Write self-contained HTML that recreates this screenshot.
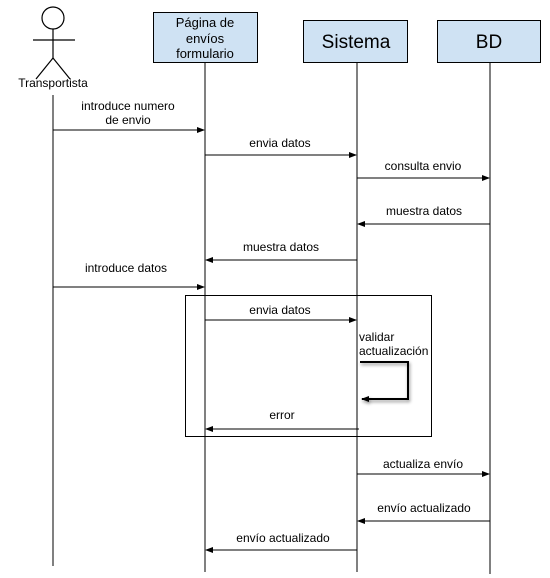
<!DOCTYPE html>
<html><head><meta charset="utf-8"><style>
html,body{margin:0;padding:0;background:#fff;}
svg{display:block;font-family:"Liberation Sans",Arial,sans-serif;}
</style></head><body>
<svg width="550" height="578" viewBox="0 0 550 578" xmlns="http://www.w3.org/2000/svg">
<defs>
<marker id="a" markerWidth="8" markerHeight="6" refX="7" refY="3" orient="auto" markerUnits="userSpaceOnUse">
<path d="M0,0 L8,3 L0,6 z" fill="#000"/></marker>
<filter id="sh" x="-20%" y="-20%" width="150%" height="150%"><feDropShadow dx="1" dy="2" stdDeviation="1.5" flood-opacity="0.45"/></filter>
</defs>
<g stroke="#000" stroke-width="1.2" fill="none">
<circle cx="53" cy="18" r="11" fill="#fff"/>
<line x1="53" y1="29" x2="53" y2="58"/>
<line x1="33" y1="40" x2="75" y2="40"/>
<line x1="53" y1="58" x2="36" y2="79"/>
<line x1="53" y1="58" x2="70" y2="79"/>
</g>
<text x="53" y="87" font-size="12" text-anchor="middle">Transportista</text>
<g stroke="#000" stroke-width="1" fill="#cfe2f3">
<rect x="153.5" y="12.5" width="104" height="50"/>
<rect x="303.5" y="20.5" width="104" height="42"/>
<rect x="437.5" y="20.5" width="103" height="42"/>
</g>
<g font-size="13" text-anchor="middle">
<text x="205" y="27">Página de</text>
<text x="205" y="43">envíos</text>
<text x="205" y="58">formulario</text>
</g>
<text x="356" y="48" font-size="19" text-anchor="middle">Sistema</text>
<text x="489" y="48" font-size="19" text-anchor="middle">BD</text>
<g stroke="#000" stroke-width="1">
<line x1="53" y1="95" x2="53" y2="566"/>
<line x1="205" y1="63" x2="205" y2="572"/>
<line x1="357" y1="63" x2="357" y2="572"/>
<line x1="490" y1="63" x2="490" y2="574"/>
</g>
<rect x="185.5" y="295.5" width="246" height="141" fill="none" stroke="#000" stroke-width="1"/>
<g stroke="#000" stroke-width="1" marker-end="url(#a)">
<line x1="53" y1="130" x2="204" y2="130"/>
<line x1="205" y1="155" x2="356" y2="155"/>
<line x1="357" y1="178" x2="489" y2="178"/>
<line x1="490" y1="224" x2="358" y2="224"/>
<line x1="357" y1="260" x2="206" y2="260"/>
<line x1="53" y1="287" x2="204" y2="287"/>
<line x1="205" y1="320" x2="356" y2="320"/>
<line x1="359" y1="429" x2="206" y2="429"/>
<line x1="357" y1="474" x2="489" y2="474"/>
<line x1="490" y1="521" x2="358" y2="521"/>
<line x1="357" y1="550" x2="206" y2="550"/>
</g>
<polyline points="360,362 408,362 408,399 362,399" fill="none" stroke="#000" stroke-width="2" filter="url(#sh)" marker-end="url(#a)"/>
<g font-size="12" text-anchor="middle">
<text x="128" y="110">introduce numero</text>
<text x="128" y="124">de envio</text>
<text x="280" y="147">envia datos</text>
<text x="423" y="170">consulta envio</text>
<text x="424" y="215">muestra datos</text>
<text x="281" y="251">muestra datos</text>
<text x="126" y="272">introduce datos</text>
<text x="280" y="314">envia datos</text>
<text x="282" y="419">error</text>
<text x="423" y="468">actualiza envío</text>
<text x="424" y="512">envío actualizado</text>
<text x="283" y="542">envío actualizado</text>
</g>
<g font-size="12">
<text x="359" y="341">validar</text>
<text x="359" y="355">actualización</text>
</g>
</svg>
</body></html>
